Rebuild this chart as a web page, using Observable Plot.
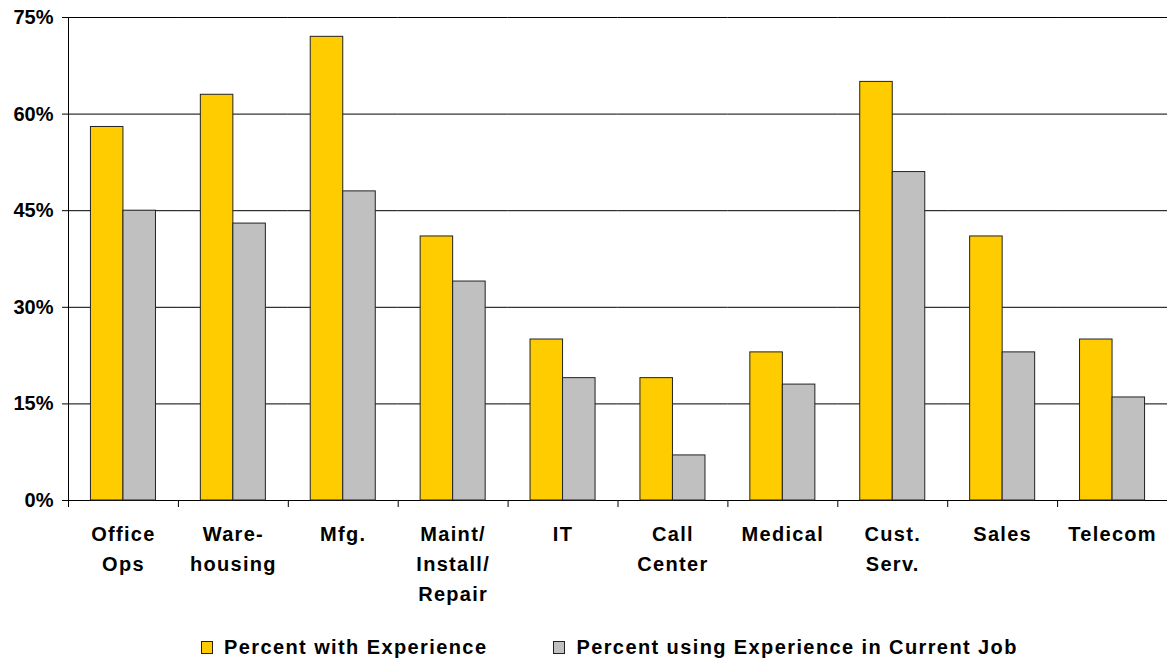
<!DOCTYPE html>
<html>
<head>
<meta charset="utf-8">
<script src="https://cdn.jsdelivr.net/npm/d3@7"></script>
<script src="https://cdn.jsdelivr.net/npm/@observablehq/plot@0.6"></script>
<style>
  html, body { margin: 0; padding: 0; background: #fff; }
  body { width: 1167px; height: 659px; overflow: hidden; font-family: "Liberation Sans", Arial, sans-serif; }
  g[aria-label="fx-axis tick label"] { letter-spacing: 1.3px; }
  #legend { display: flex; align-items: center; height: 24px; padding-top: 15px; padding-left: 201px;
            font-size: 20px; font-weight: bold; letter-spacing: 1.4px; color: #000; }
  .item { display: flex; align-items: center; }
  .sw { width: 10px; height: 11px; border: 1px solid #222; margin-right: 11px; }
</style>
</head>
<body>
<div id="chart"></div>
<div id="legend"></div>
<script>
const categories = ["Office\nOps", "Ware-\nhousing", "Mfg.", "Maint/\nInstall/\nRepair", "IT", "Call\nCenter", "Medical", "Cust.\nServ.", "Sales", "Telecom"];
const seriesNames = ["Percent with Experience", "Percent using Experience in Current Job"];
const withExperience = [58, 63, 72, 41, 25, 19, 23, 65, 41, 25];
const usingExperience = [45, 43, 48, 34, 19, 7, 18, 51, 23, 16];
const yTicks = [0, 15, 30, 45, 60, 75];
const colors = ["#FFCC00", "#C0C0C0"];

const data = [];
categories.forEach((c, i) => {
  data.push({category: c, series: seriesNames[0], value: withExperience[i]});
  data.push({category: c, series: seriesNames[1], value: usingExperience[i]});
});

const W = 1167, H = 620, MT = 17, MB = 120, ML = 68, MR = 0;
const plotH = H - MT - MB;

const chart = Plot.plot({
  width: W, height: H,
  marginTop: MT, marginBottom: MB, marginLeft: ML, marginRight: MR,
  style: {fontFamily: '"Liberation Sans", Arial, sans-serif', fontSize: "20px", fontWeight: "bold", color: "#000", background: "#fff", overflow: "visible"},
  fx: {domain: categories, paddingInner: 0, paddingOuter: 0, round: false, label: null},
  x: {domain: seriesNames, paddingInner: 0, paddingOuter: 0.69, round: false, axis: null},
  y: {domain: [0, 75], axis: null},
  color: {domain: seriesNames, range: colors},
  marks: [
    Plot.ruleY(yTicks, {stroke: "#000", strokeWidth: 1}),
    Plot.barY(data, {fx: "category", x: "series", y: "value", fill: "series", stroke: "#222", strokeWidth: 1, insetLeft: 0, insetRight: 0}),
    Plot.frame({anchor: "left", stroke: "#000", insetTop: plotH, insetBottom: -6}),
    Plot.frame({anchor: "left", stroke: "#000", facet: "super"}),
    Plot.axisY(yTicks, {tickFormat: d => d + "%", tickSize: 6, tickPadding: 9, fontSize: 20, fontWeight: "bold", stroke: "#000", label: null}),
    Plot.axisFx({anchor: "bottom", tickSize: 0, tickPadding: 19, lineHeight: 1.5, fontSize: 20, fontWeight: "bold", label: null})
  ]
});
document.getElementById("chart").appendChild(chart);

const legend = document.getElementById("legend");
seriesNames.forEach((s, i) => {
  const item = document.createElement("div");
  item.className = "item";
  if (i > 0) item.style.marginLeft = "66px";
  const sw = document.createElement("span");
  sw.className = "sw";
  sw.style.background = colors[i];
  const t = document.createElement("span");
  t.textContent = s;
  item.appendChild(sw);
  item.appendChild(t);
  legend.appendChild(item);
});
</script>
</body>
</html>
